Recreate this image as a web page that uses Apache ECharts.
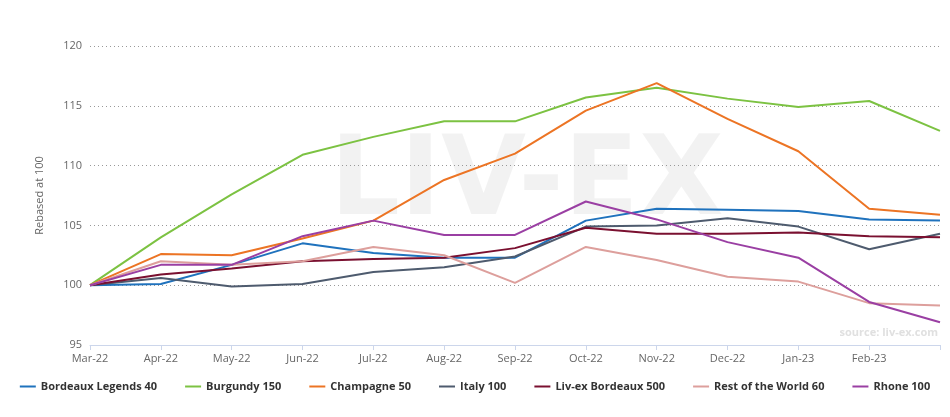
<!DOCTYPE html>
<html><head><meta charset="utf-8">
<script src="https://cdn.jsdelivr.net/npm/echarts@6/dist/echarts.min.js"></script>
<style>html,body{margin:0;padding:0;background:#fff}#c{width:950px;height:417px}</style>
</head><body><div id="c"></div>
<script>
const categories = ['Mar-22','Apr-22','May-22','Jun-22','Jul-22','Aug-22','Sep-22','Oct-22','Nov-22','Dec-22','Jan-23','Feb-23','Mar-23'];
const bordeauxLegends = [100,100.1,101.7,103.5,102.7,102.3,102.3,105.4,106.4,106.3,106.2,105.5,105.4];
const burgundy = [100,104.0,107.6,110.9,112.4,113.7,113.7,115.7,116.5,115.6,114.9,115.4,112.9];
const champagne = [100,102.6,102.5,103.9,105.4,108.8,111.0,114.6,116.9,113.9,111.2,106.4,105.9];
const italy = [100,100.6,99.9,100.1,101.1,101.5,102.4,104.9,105.0,105.6,104.9,103.0,104.3];
const bordeaux500 = [100,100.9,101.4,102.0,102.2,102.3,103.1,104.8,104.3,104.3,104.4,104.1,104.0];
const restOfWorld = [100,102.0,101.7,102.0,103.2,102.5,100.2,103.2,102.1,100.7,100.3,98.5,98.3];
const rhone = [100,101.7,101.7,104.1,105.4,104.2,104.2,107.0,105.5,103.6,102.3,98.6,96.9];
const names = ['Bordeaux Legends 40','Burgundy 150','Champagne 50','Italy 100','Liv-ex Bordeaux 500','Rest of the World 60','Rhone 100'];
const data = [bordeauxLegends,burgundy,champagne,italy,bordeaux500,restOfWorld,rhone];
const colors = ['#1f72bd','#7cc242','#ec7424','#4e5b6e','#7a1030','#dd9f9c','#9a3fa3'];
const chart = echarts.init(document.getElementById('c'));
chart.setOption({
  animation:false,
  color:colors,
  grid:{left:90,right:10,top:46,bottom:72},
  graphic:[
    {type:'text',left:330,top:130,z:0,style:{text:'LIV-EX',font:'bold 110px "DejaVu Sans"',fill:'rgba(0,0,0,0.05)'}},
    {type:'text',right:12,top:327,style:{text:'source: liv-ex.com',font:'bold 11px "Open Sans"',fill:'#e0e0e0'}}
  ],
  xAxis:{type:'category',data:categories,boundaryGap:false,
    axisLine:{lineStyle:{color:'#ccd6eb'}},axisTick:{show:true,lineStyle:{color:'#ccd6eb'}},
    axisLabel:{color:'#666',fontSize:11,fontFamily:'Open Sans',formatter:(v,i)=>i===12?'':v}},
  yAxis:{type:'value',min:95,max:120,interval:5,
    name:'Rebased at 100',nameLocation:'middle',nameGap:45,nameTextStyle:{color:'#666',fontSize:11,fontFamily:'Open Sans'},
    axisLabel:{color:'#666',fontSize:11,fontFamily:'Open Sans'},
    splitLine:{lineStyle:{color:'#999',type:[1,3]}}},
  legend:{bottom:20,left:'center',itemGap:28,itemWidth:16,itemHeight:2,icon:'rect',
    textStyle:{color:'#333',fontSize:11,fontWeight:'bold',fontFamily:'Open Sans'}},
  series:names.map((n,i)=>({name:n,type:'line',data:data[i],symbol:'none',lineStyle:{width:2}}))
});
</script></body></html>
